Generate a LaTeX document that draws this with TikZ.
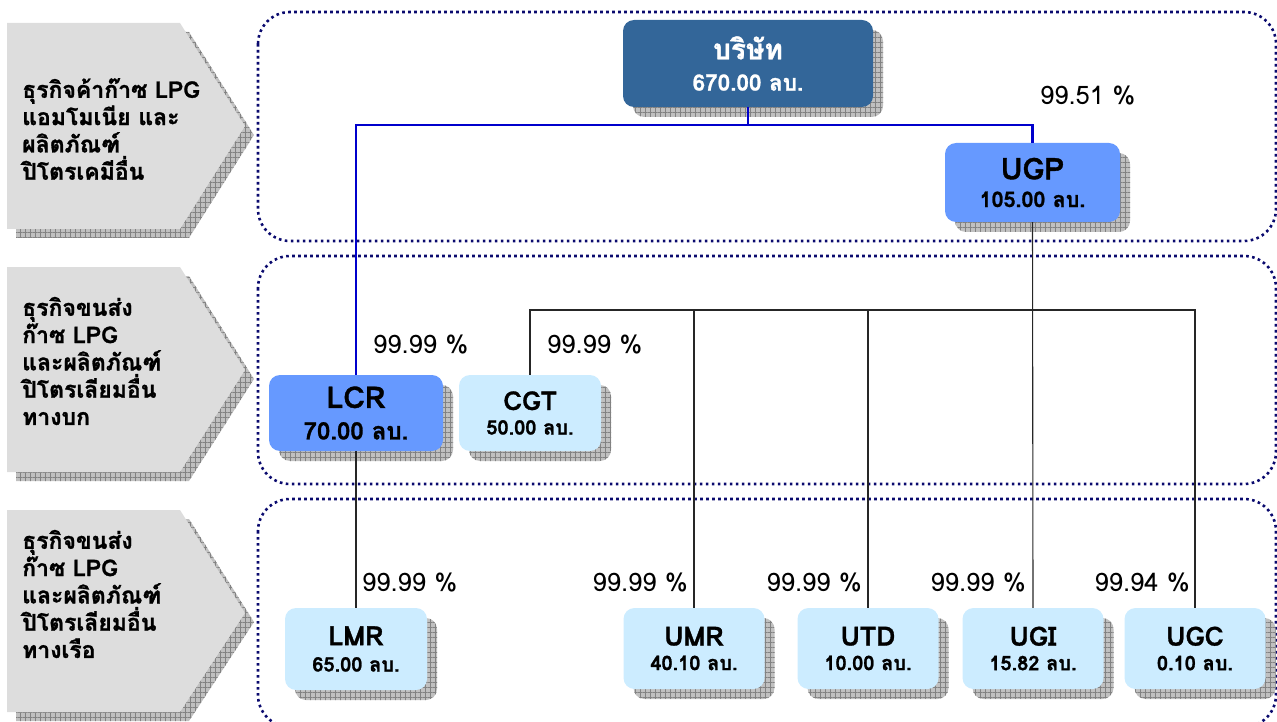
\documentclass[tikz,border=0pt]{standalone}
\usepackage{fontspec}
\IfFontExistsTF{Loma Bold}
  {\setmainfont[Script=Thai,BoldFont={Loma Bold},BoldFeatures={FakeBold=1.2}]{Loma}}
  {\setmainfont[Script=Thai,BoldFont={Loma},BoldFeatures={FakeBold=3}]{Loma}}
\usetikzlibrary{patterns.meta}
\definecolor{zonecol}{RGB}{10,10,110}
\definecolor{topcol}{RGB}{51,102,153}
\definecolor{midcol}{RGB}{102,153,255}
\definecolor{lowcol}{RGB}{204,236,255}
\definecolor{sidecol}{RGB}{221,221,221}
\definecolor{shadecol}{RGB}{192,192,192}
\definecolor{gridcol}{RGB}{130,130,130}
\definecolor{buscol}{RGB}{0,0,204}

\begin{document}
\begin{tikzpicture}[x=1pt,y=-1pt,
  zone/.style={draw=zonecol,line width=2.6pt,dash pattern=on 2.6pt off 3.4pt,rounded corners=32pt},
  shade/.style={preaction={fill=shadecol,transform canvas={xshift=#1pt,yshift=-#1pt}},
    preaction={pattern={Hatch[angle=0,distance=5pt,line width=0.6pt]},pattern color=gridcol,
      transform canvas={xshift=#1pt,yshift=-#1pt}}},
  unit/.style={rectangle,rounded corners=11pt,align=center,inner sep=0pt,font=\bfseries,shade=10},
  pct/.style={font=\fontsize{25.5}{28}\selectfont,inner sep=0pt},
  sidetxt/.style={anchor=west,align=left,inner sep=0pt,font=\bfseries\fontsize{23}{27.3}\selectfont},
  owner/.style={draw=buscol,line width=2.8pt},
  sub/.style={draw=black!85,line width=1.1pt}]
  \useasboundingbox (0,0) rectangle (1277,722);

  \draw[zone] (258,12) rectangle (1276,241);
  \draw[zone] (258,256) rectangle (1276,484);
  \draw[zone] (258,499) rectangle (1276,727);

  \path[fill=sidecol,shade=9] (7,23) -- (180,23) -- (245,126) -- (180,229) -- (7,229) -- cycle;
  \path[fill=sidecol,shade=9] (7,267) -- (180,267) -- (245,370) -- (180,472) -- (7,472) -- cycle;
  \path[fill=sidecol,shade=9] (7,510) -- (180,510) -- (245,613) -- (180,712) -- (7,712) -- cycle;
  \node[sidetxt] (side1) at (22,129) {ธุรกิจค้าก๊าซ LPG\\แอมโมเนีย และ\\ผลิตภัณฑ์\\ปิโตรเคมีอื่น};
  \node[sidetxt] (side2) at (22,361) {ธุรกิจขนส่ง\\ก๊าซ LPG\\และผลิตภัณฑ์\\ปิโตรเลียมอื่น\\ทางบก};
  \node[sidetxt] (side3) at (22,594) {ธุรกิจขนส่ง\\ก๊าซ LPG\\และผลิตภัณฑ์\\ปิโตรเลียมอื่น\\ทางเรือ};

  \node[unit,fill=topcol,text=white,minimum width=250pt,minimum height=87pt] (co) at (748,63.5)
    {{\fontsize{28}{30}\selectfont บริษัท}\\[14pt]{\fontsize{22.5}{24}\selectfont 670.00 ลบ.}};
  \node[unit,fill=midcol,minimum width=175pt,minimum height=79pt] (ugp) at (1032.5,182.5)
    {{\fontsize{30}{30}\selectfont UGP}\\[11pt]{\fontsize{21.5}{24}\selectfont 105.00 ลบ.}};
  \node[unit,fill=midcol,minimum width=174pt,minimum height=76pt] (lcr) at (356,413)
    {{\fontsize{30}{30}\selectfont LCR}\\[13pt]{\fontsize{24}{24}\selectfont 70.00 ลบ.}};
  \node[unit,fill=lowcol,minimum width=142pt,minimum height=76pt] (cgt) at (530,413)
    {{\fontsize{26}{28}\selectfont CGT}\\[9pt]{\fontsize{20}{22}\selectfont 50.00 ลบ.}};
  \node[unit,fill=lowcol,minimum width=142pt,minimum height=82pt] (lmr) at (356,649)
    {{\fontsize{26.5}{28}\selectfont LMR}\\[11pt]{\fontsize{20}{22}\selectfont 65.00 ลบ.}};
  \node[unit,fill=lowcol,minimum width=141pt,minimum height=81pt] (umr) at (694,648.5)
    {{\fontsize{26.5}{28}\selectfont UMR}\\[9pt]{\fontsize{20}{22}\selectfont 40.10 ลบ.}};
  \node[unit,fill=lowcol,minimum width=141pt,minimum height=81pt] (utd) at (868,648.5)
    {{\fontsize{26.5}{28}\selectfont UTD}\\[9pt]{\fontsize{20}{22}\selectfont 10.00 ลบ.}};
  \node[unit,fill=lowcol,minimum width=141pt,minimum height=81pt] (ugi) at (1033,648.5)
    {{\fontsize{26.5}{28}\selectfont UGI}\\[9pt]{\fontsize{20}{22}\selectfont 15.82 ลบ.}};
  \node[unit,fill=lowcol,minimum width=141pt,minimum height=81pt] (ugc) at (1195,648.5)
    {{\fontsize{26.5}{28}\selectfont UGC}\\[9pt]{\fontsize{20}{22}\selectfont 0.10 ลบ.}};

  \coordinate (bus1) at (0,125);
  \coordinate (bus2) at (0,310);
  \draw[owner] (co.south) -- (co.south |- bus1);
  \draw[owner] (lcr.north) -- (lcr.north |- bus1) -- (ugp.north |- bus1) -- (ugp.north);
  \draw[sub] (ugp.south) -- (ugi.north);
  \draw[sub] (cgt.north) -- (cgt.north |- bus2) -- (ugc.north |- bus2) -- (ugc.north);
  \draw[sub] (umr.north) -- (umr.north |- bus2);
  \draw[sub] (utd.north) -- (utd.north |- bus2);
  \draw[sub] (lcr.south) -- (lmr.north);

  \node[pct,anchor=west] (pugp) at (1040,96) {99.51 \%};
  \node[pct,anchor=west] (plcr) at (373,345) {99.99 \%};
  \node[pct,anchor=west] (pcgt) at (547,345) {99.99 \%};
  \node[pct,anchor=west] (plmr) at (362,583) {99.99 \%};
  \node[pct,anchor=east] (pumr) at (688,583) {99.99 \%};
  \node[pct,anchor=east] (putd) at (862,583) {99.99 \%};
  \node[pct,anchor=east] (pugi) at (1026,583) {99.99 \%};
  \node[pct,anchor=east] (pugc) at (1190,583) {99.94 \%};
\end{tikzpicture}
\end{document}
